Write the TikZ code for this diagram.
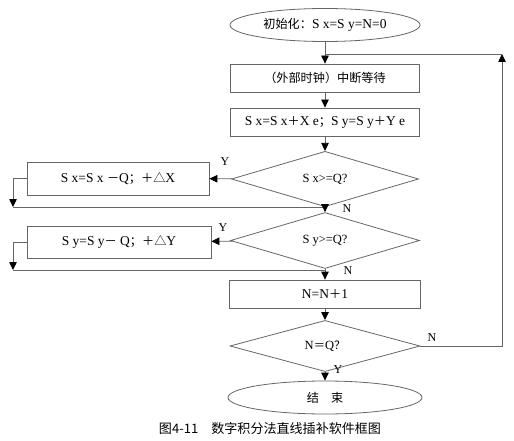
\documentclass[tikz,border=0pt]{standalone}
\usepackage{fontspec}
\setmainfont{Liberation Serif}
\newfontfamily\cjk{Noto Sans CJK SC}[Scale=0.9]
\usepackage{tikz}
\usetikzlibrary{arrows.meta,positioning,shapes.geometric,calc}

\begin{document}
\begin{tikzpicture}[
  x=1pt, y=-1pt,
  box/.style={draw=black!60, thick, rectangle, inner sep=0pt, font=\fontsize{13.5}{15}\selectfont},
  term/.style={draw=black!60, thick, ellipse, inner sep=0pt, font=\fontsize{13.5}{15}\selectfont},
  decide/.style={draw=black!60, thick, diamond, inner sep=0pt, font=\fontsize{12.5}{14}\selectfont},
  arrow/.style={-{Triangle[length=8pt,width=7.5pt,color=black]}, draw=black!60, thick},
  line/.style={draw=black!60, thick},
  yn/.style={font=\fontsize{12}{14}\selectfont}
]
\useasboundingbox (0,0) rectangle (514,441);

% Nodes
\node[term, minimum width=190pt, minimum height=33pt] (start) at (325,25) {{\cjk 初始化：}S x=S y=N=0\hspace{10pt}};
\node[box, minimum width=189pt, minimum height=28pt] (wait) at (325,78) {{\cjk （外部时钟）中断等待}\hspace{36pt}};
\node[box, minimum width=189pt, minimum height=28pt] (acc) at (325,122) {S x=S x{\cjk ＋}X e{\cjk ；}S y=S y{\cjk ＋}Y e};
\node[decide, minimum width=187pt, minimum height=44pt] (dx) at (325,179) {S x>=Q?};
\node[box, minimum width=182pt, minimum height=33pt] (subx) at (118,178.5) {S x=S x {\cjk －}Q{\cjk ；＋△}X\hspace{40pt}};
\node[decide, minimum width=189pt, minimum height=41pt] (dy) at (325,240.5) {S y>=Q?};
\node[box, minimum width=184pt, minimum height=32pt] (suby) at (119,242) {S y=S y{\cjk －} Q{\cjk ；＋△}Y\hspace{40pt}};
\node[box, minimum width=191pt, minimum height=28pt] (inc) at (325,294) {N=N{\cjk ＋}1};
\node[decide, minimum width=190pt, minimum height=34pt] (dn) at (325,346) {N{\cjk ＝}Q{\cjk ？}};
\node[term, minimum width=194pt, minimum height=33pt] (end) at (325,397.5) {\cjk 结　束};
\node[font=\fontsize{14.5}{16}\selectfont] (cap) at (270,429) {\cjk 图4-11　数字积分法直线插补软件框图};

% Corners
\coordinate (join) at (325,54);
\coordinate (rc) at (502,54);
\coordinate (lx) at (13,207);
\coordinate (mx) at (325,207);
\coordinate (ly) at (13,270);
\coordinate (my) at (325,270);

% Arrows
\draw[arrow] (start) -- (wait);
\draw[arrow] (wait) -- (acc);
\draw[arrow] (acc) -- (dx);
\draw[arrow] (dx) -- (subx);
\draw[arrow] (subx.west) -| (lx);
\draw[line] (lx) -- (mx);
\draw[arrow] (dx) -- (dy);
\draw[arrow] (dy) -- (suby);
\draw[arrow] (suby.west) -| (ly);
\draw[line] (ly) -- (my);
\draw[arrow] (dy) -- (inc);
\draw[arrow] (inc) -- (dn);
\draw[arrow] (dn) -- (end);
\draw[arrow] (dn.east) -| (rc);
\draw[line] (rc) -- (join);

% Labels
\node[yn] (y1) at (225,162) {Y};
\node[yn] (n1) at (347,209) {N};
\node[yn] (y2) at (223,228) {Y};
\node[yn] (n2) at (348,271) {N};
\node[yn] (n3) at (432,338) {N};
\node[yn] (y3) at (338,370) {Y};

\end{tikzpicture}
\end{document}
